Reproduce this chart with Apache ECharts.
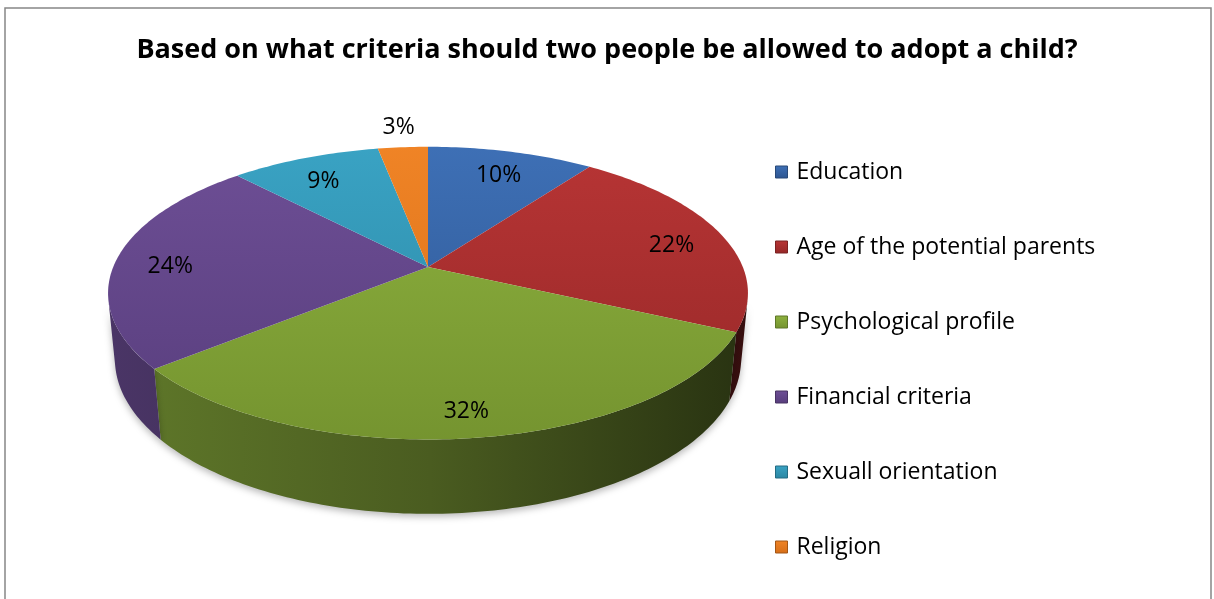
<!DOCTYPE html>
<html>
<head>
<meta charset="utf-8">
<script src="https://cdn.jsdelivr.net/npm/echarts@6/dist/echarts.min.js"></script>
<style>
  html, body { margin: 0; padding: 0; background: #ffffff; }
  #chart { width: 1214px; height: 599px; }
</style>
</head>
<body>
<div id="chart"></div>
<script>
// Survey answers, in percent
const categories = ['Education', 'Age of the potential parents', 'Psychological profile',
                    'Financial criteria', 'Sexuall orientation', 'Religion'];
const values = [10, 22, 32, 24, 9, 3];
const titleText = 'Based on what criteria should two people be allowed to adopt a child?';

// Slice colours: base, top-face light, top-face dark
const baseColors = ['#3A68AA', '#B03030', '#86A83A', '#674A8E', '#3399B9', '#E87B20'];
const topLight  = ['#3E70B6', '#B83535', '#8EB23F', '#6E4F96', '#3AA3C4', '#F08426'];
const topDark   = ['#2D5590', '#952727', '#74932F', '#573D7C', '#2A86A2', '#D66E18'];

const FONT = '"Open Sans", "Noto Sans", sans-serif';

// Perspective projection of a flat cylinder (the pie body)
const CX = 428, CY = 267;      // screen position of the pie centre (top face)
const FOCAL = 1574;            // focal length, px
const DIST = 5.0;              // camera distance, in pie radii
const TILT = Math.asin(0.45);  // camera elevation
const SA = Math.sin(TILT), CA = Math.cos(TILT);
const THICK = 0.236;           // pie height, in pie radii
const LABEL_H = -0.026;        // height of the plane the inner labels sit on

function project(r, phi, h) {
  const X = r * Math.sin(phi);
  const Z = -r * Math.cos(phi);
  const depth = DIST - h * SA - Z * CA;
  const up = h * CA - Z * SA;
  return [CX + FOCAL * X / depth, CY - FOCAL * up / depth];
}

// The outer wall is visible only where it faces the camera
const visLimit = Math.acos(-1 / (DIST * CA));
const VIS_FROM = visLimit, VIS_TO = 2 * Math.PI - visLimit;

const total = values.reduce((a, b) => a + b, 0);
const starts = [];
values.reduce((acc, v, i) => { starts[i] = acc; return acc + v; }, 0);

function darken(hex, k) {
  const n = parseInt(hex.slice(1), 16);
  const r = Math.round(((n >> 16) & 255) * k);
  const g = Math.round(((n >> 8) & 255) * k);
  const b = Math.round((n & 255) * k);
  return 'rgb(' + r + ',' + g + ',' + b + ')';
}

function arcPoints(a0, a1, r, h) {
  const pts = [];
  const steps = Math.max(2, Math.ceil((a1 - a0) / (Math.PI / 180)));
  for (let k = 0; k <= steps; k++) {
    pts.push(project(r, a0 + (a1 - a0) * k / steps, h));
  }
  return pts;
}

function renderSlice(params, api) {
  const i = params.seriesIndex;
  const v = api.value(0);
  const a0 = starts[i] / total * 2 * Math.PI;
  const a1 = (starts[i] + v) / total * 2 * Math.PI;
  const children = [];

  // outer wall
  const w0 = Math.max(a0, VIS_FROM), w1 = Math.min(a1, VIS_TO);
  if (w1 > w0) {
    const topArc = arcPoints(w0, w1, 1, 0);
    const botArc = arcPoints(w0, w1, 1, -THICK).reverse();
    children.push({
      type: 'polygon',
      z2: 1,
      shape: { points: topArc.concat(botArc) },
      style: {
        fill: {
          type: 'linear', x: 110, y: 0, x2: 750, y2: 0, global: true,
          colorStops: [
            { offset: 0, color: darken(baseColors[i], 0.72) },
            { offset: 0.5, color: darken(baseColors[i], 0.55) },
            { offset: 1, color: darken(baseColors[i], 0.3) }
          ]
        },
        stroke: null,
        shadowBlur: 7,
        shadowOffsetY: 3,
        shadowColor: 'rgba(0,0,0,0.28)'
      }
    });
  }

  // top face
  const top = [project(0, 0, 0)].concat(arcPoints(a0, a1, 1, 0));
  children.push({
    type: 'polygon',
    z2: 10,
    shape: { points: top },
    style: {
      fill: {
        type: 'linear', x: 0, y: 140, x2: 0, y2: 450, global: true,
        colorStops: [
          { offset: 0, color: topLight[i] },
          { offset: 1, color: topDark[i] }
        ]
      },
      stroke: null
    }
  });

  // percentage label: on the face, or just outside for thin slices
  const mid = (a0 + a1) / 2;
  const share = v / total;
  const outside = share < 0.05;
  const lp = outside ? project(1.2, mid, 0) : project(0.83, mid, LABEL_H);
  children.push({
    type: 'text',
    z2: 20,
    style: {
      text: Math.round(share * 100) + '%',
      x: lp[0], y: lp[1],
      align: 'center', verticalAlign: 'middle',
      font: '23px ' + FONT,
      fill: '#000000'
    }
  });

  return { type: 'group', children: children };
}

const series = categories.map((name, i) => ({
  type: 'custom',
  name: name,
  coordinateSystem: 'none',
  renderItem: renderSlice,
  itemStyle: { color: baseColors[i] },
  data: [[values[i]]],
  silent: true
}));

// Legend swatches with a bevelled look
const legendData = categories.map((name, i) => ({
  name: name,
  itemStyle: {
    color: {
      type: 'linear', x: 0, y: 0, x2: 0, y2: 1,
      colorStops: [
        { offset: 0, color: topLight[i] },
        { offset: 1, color: topDark[i] }
      ]
    },
    borderColor: darken(baseColors[i], 0.7),
    borderWidth: 1
  }
}));

const chart = echarts.init(document.getElementById('chart'), null, { renderer: 'canvas' });
chart.setOption({
  backgroundColor: '#ffffff',
  animation: false,
  title: {
    text: titleText,
    left: 'center',
    top: 32,
    textStyle: { fontFamily: FONT, fontWeight: 'bold', fontSize: 27, color: '#000000' }
  },
  legend: {
    orient: 'vertical',
    left: 770,
    top: 154,
    icon: 'rect',
    itemWidth: 12,
    itemHeight: 12,
    itemGap: 49,
    selectedMode: false,
    data: legendData,
    textStyle: { fontFamily: FONT, fontSize: 23, color: '#000000', lineHeight: 26, padding: [0, 0, 0, 4] }
  },
  graphic: [{
    type: 'rect',
    shape: { x: 5, y: 8, width: 1206, height: 600 },
    style: { fill: null, stroke: '#878787', lineWidth: 1.5 },
    silent: true
  }],
  series: series
});
</script>
</body>
</html>
